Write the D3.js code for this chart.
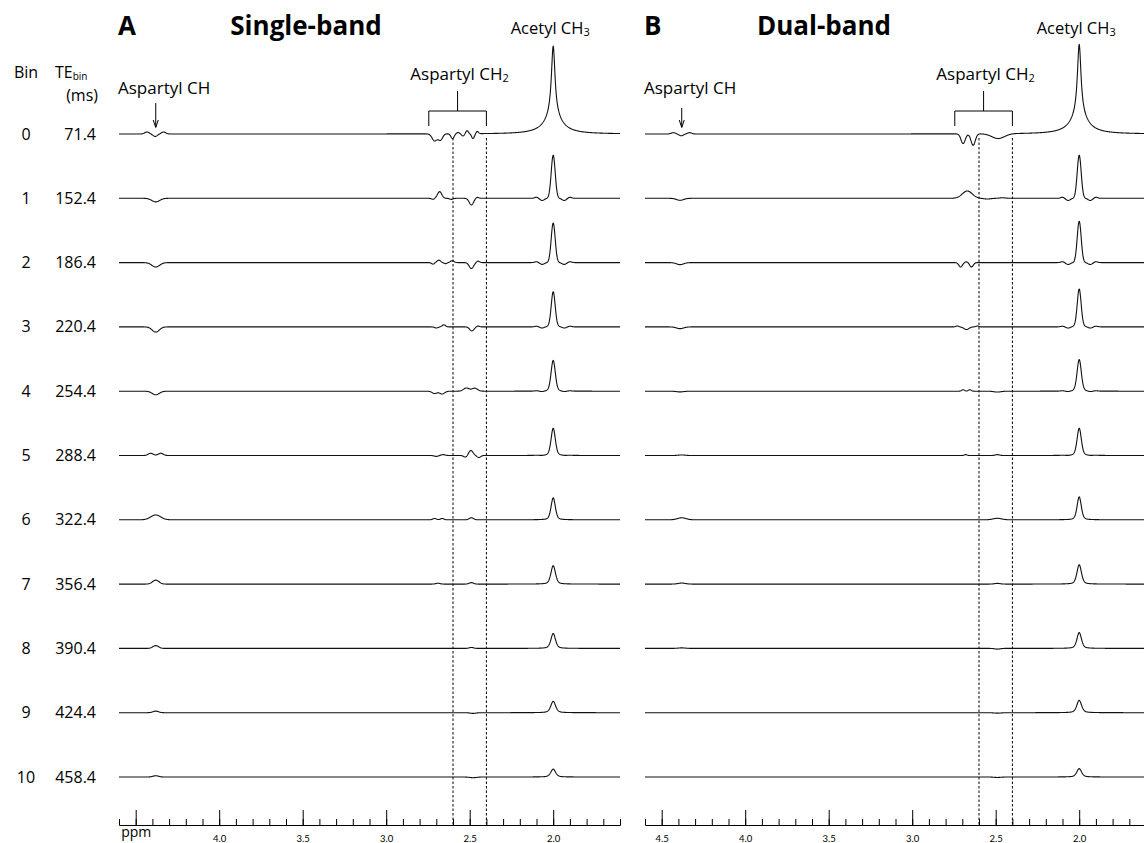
<!DOCTYPE html>
<html>
<head>
<meta charset="utf-8">
<script src="https://cdn.jsdelivr.net/npm/d3@7"></script>
<style>
  body { margin: 0; background: #fff; }
  svg { display: block; font-family: "Open Sans", sans-serif; }
</style>
</head>
<body>
<div id="chart"></div>
<script>
// bins and their echo times (ms)
var bins = [0, 1, 2, 3, 4, 5, 6, 7, 8, 9, 10];
var teBin = ["71.4", "152.4", "186.4", "220.4", "254.4", "288.4", "322.4", "356.4", "390.4", "424.4", "458.4"];

// acetyl CH3 at 2.0 ppm, height in a.u. (single-band bin 0 = 100)
var acetylSingle = [100, 49, 45, 40, 35, 31, 25, 21, 17, 13, 9];
var acetylDual = [102, 49, 47, 43, 36, 31, 26, 22, 18, 14, 9.5];
var acetylWidth = [0.026, 0.028, 0.028, 0.028, 0.03, 0.03, 0.03, 0.032, 0.032, 0.034, 0.034];
var acetylLorentz = [1, 0, 0, 0.1, 0.2, 0.3, 0.35, 0.4, 0.45, 0.5, 0.5];
var acetylWing = [0.2, 0, 0, 0, 0, 0, 0, 0, 0, 0, 0];
var acetylRinging = [0, 0.05, 0.045, 0.035, 0.02, 0.01, 0, 0, 0, 0, 0];

// small resonances per bin: [ppm, height a.u., fwhm ppm]
var aspCHSingle = [
  [[4.433, 2.3, 0.03], [4.383, -2.8, 0.03], [4.333, 2.3, 0.03]],
  [[4.38, -4.1, 0.055]],
  [[4.38, -5.0, 0.055]],
  [[4.38, -5.9, 0.05]],
  [[4.38, -4.1, 0.05]],
  [[4.41, 2.5, 0.035], [4.35, 2.5, 0.035]],
  [[4.38, 5.5, 0.07]],
  [[4.38, 4.5, 0.045]],
  [[4.38, 3.2, 0.04]],
  [[4.38, 1.8, 0.04]],
  [[4.38, 1.4, 0.04]]
];
var aspCHDual = [
  [[4.43, 1.5, 0.03], [4.383, -2, 0.03], [4.333, 1.5, 0.03]],
  [[4.39, -2.3, 0.05]],
  [[4.39, -2.3, 0.05]],
  [[4.39, -2, 0.05]],
  [[4.39, -0.8, 0.05]],
  [[4.38, 0.6, 0.05]],
  [[4.38, 2.3, 0.06]],
  [[4.38, 1.2, 0.05]],
  [[4.38, 0.6, 0.05]],
  [],
  []
];
var aspCH2Single = [
  [[2.71, -8, 0.035], [2.675, -7, 0.03], [2.603, -5.5, 0.022], [2.57, 1.5, 0.02], [2.54, -2.5, 0.02], [2.516, 3.5, 0.018], [2.48, -5.5, 0.02], [2.455, 2.5, 0.018]],
  [[2.72, -1.2, 0.02], [2.68, 7.6, 0.03], [2.61, -1.2, 0.025], [2.49, -7.6, 0.03], [2.455, 1.2, 0.02]],
  [[2.72, -1.7, 0.02], [2.685, 2.8, 0.025], [2.645, -1.2, 0.02], [2.605, 2.2, 0.025], [2.49, -6.8, 0.03], [2.45, 1.7, 0.02]],
  [[2.70, -1.2, 0.025], [2.655, 2.3, 0.025], [2.487, -4.6, 0.03], [2.45, 1, 0.02]],
  [[2.71, -2.6, 0.035], [2.665, -3.2, 0.035], [2.52, 3.6, 0.04], [2.47, 3.4, 0.04]],
  [[2.70, -1, 0.03], [2.66, 1, 0.03], [2.525, -2, 0.025], [2.493, 5.7, 0.03], [2.445, -2.3, 0.025]],
  [[2.71, 1.5, 0.025], [2.665, 1.5, 0.025], [2.49, 2.3, 0.03]],
  [[2.69, 1, 0.03], [2.49, 1.7, 0.03]],
  [[2.49, 1.1, 0.03]],
  [[2.48, -0.8, 0.04]],
  [[2.48, -0.8, 0.05]]
];
var aspCH2Dual = [
  [[2.695, -11, 0.03], [2.635, -13, 0.03], [2.485, -5.5, 0.09]],
  [[2.67, 8.3, 0.07], [2.55, -0.8, 0.05], [2.46, 0.6, 0.04]],
  [[2.71, -5, 0.025], [2.675, 1, 0.02], [2.645, -5, 0.025]],
  [[2.73, 1, 0.02], [2.675, -3, 0.035], [2.61, 1, 0.02]],
  [[2.695, 1.7, 0.02], [2.655, 1.7, 0.02], [2.49, -1, 0.05]],
  [[2.68, 1, 0.02], [2.49, 1, 0.03]],
  [[2.49, 1.7, 0.06]],
  [[2.49, 0.8, 0.04]],
  [[2.49, -0.8, 0.04]],
  [[2.49, -0.5, 0.05]],
  [[2.49, -0.5, 0.05]]
];

// axis ticks
var majorTicks = [4.5, 4.0, 3.5, 3.0, 2.5, 2.0];
var minorTicks = d3.range(16, 47).map(function(v) { return v / 10; });
var tickLabelsSingle = ["ppm", "4.0", "3.5", "3.0", "2.5", "2.0"];
var tickLabelsDual = ["4.5", "4.0", "3.5", "3.0", "2.5", "2.0"];

var width = 1144, height = 843;
var axisY = 825;

var svg = d3.select("#chart").append("svg")
    .attr("width", width)
    .attr("height", height);

var rowY = d3.scaleLinear().domain([0, 10]).range([134, 777]);
var amp = d3.scaleLinear().domain([0, 100]).range([0, 88]);
var ppmGrid = d3.range(4.6, 1.5995, -0.002);

function gauss(d, w) { return Math.exp(-4 * Math.LN2 * d * d / (w * w)); }
function lorentz(d, w) { return 1 / (1 + 4 * d * d / (w * w)); }

function intensity(ppm, i, acetyl, chList, ch2List) {
    var d = ppm - 2.0, w = acetylWidth[i], eta = acetylLorentz[i], r = acetylRinging[i];
    var main = eta * lorentz(d, w) + (1 - eta) * gauss(d, w);
    var shape = (1 - acetylWing[i]) * main + acetylWing[i] * lorentz(d, 0.12);
    shape += r * (-gauss(d - 0.066, 0.03) - gauss(d + 0.066, 0.03))
           + r * 0.5 * (gauss(d - 0.1, 0.025) + gauss(d + 0.1, 0.025));
    var v = acetyl[i] * shape;
    chList[i].concat(ch2List[i]).forEach(function(p) { v += p[1] * gauss(ppm - p[0], p[2]); });
    return v;
}

function drawPanel(opt) {
    var x = d3.scaleLinear().domain([4.6, 1.6]).range(opt.range);
    var g = svg.append("g");

    // dashed guides at 2.6 and 2.4 ppm
    g.selectAll(".guide")
        .data([2.6, 2.4])
        .enter().append("line")
        .attr("x1", function(d) { return x(d); })
        .attr("x2", function(d) { return x(d); })
        .attr("y1", rowY(0) + 4)
        .attr("y2", axisY)
        .attr("stroke", "#000")
        .attr("stroke-width", 1)
        .attr("stroke-dasharray", "2.5,2");

    // spectra
    var line = d3.line()
        .x(function(d) { return x(d[0]); })
        .y(function(d) { return d[1]; });

    g.selectAll(".spec")
        .data(bins)
        .enter().append("path")
        .attr("class", "spec")
        .attr("fill", "none")
        .attr("stroke", "#111")
        .attr("stroke-width", 1.1)
        .attr("stroke-linejoin", "round")
        .attr("d", function(i) {
            return line(ppmGrid.map(function(p) {
                return [p, rowY(i) - amp(intensity(p, i, opt.acetyl, opt.ch, opt.ch2))];
            }));
        });

    // axis
    var minorAxis = d3.axisBottom(x).tickValues(minorTicks).tickSizeInner(-6).tickSizeOuter(0).tickFormat("");
    var majorAxis = d3.axisBottom(x).tickValues(majorTicks).tickSizeInner(-15).tickSizeOuter(0).tickPadding(10)
        .tickFormat(function(d, k) { return opt.labels[k]; });

    var ga = g.append("g").attr("transform", "translate(0," + axisY + ")");
    ga.call(minorAxis);
    ga.append("g").call(majorAxis);
    ga.selectAll("path.domain").attr("stroke", "#000").attr("stroke-width", 1);
    ga.selectAll(".tick line").attr("stroke", "#000").attr("stroke-width", 1);
    ga.selectAll(".tick text")
        .attr("fill", "#000")
        .style("font-family", "Lato, sans-serif")
        .style("font-size", "9.5px");
    ga.selectAll(".tick text").filter(function() { return this.textContent === "ppm"; })
        .style("font-family", "'Open Sans', sans-serif")
        .style("font-size", "14px")
        .attr("y", 5)
        .attr("dy", "0.5em");

    // titles
    g.append("text").attr("x", opt.range[0] - 1).attr("y", 35)
        .style("font-size", "26px").style("font-weight", 700).text(opt.letter);
    g.append("text").attr("x", opt.titleX).attr("y", 35).attr("text-anchor", "middle")
        .style("font-size", "26px").style("font-weight", 700).text(opt.title);

    // acetyl label
    var ac = g.append("text").attr("x", x(2.0) - 3).attr("y", 34).attr("text-anchor", "middle")
        .style("font-size", "16.5px");
    ac.append("tspan").text("Acetyl CH");
    ac.append("tspan").attr("dy", 1.5).style("font-size", "11px").text("3");

    // aspartyl CH label + arrow
    g.append("text").attr("x", opt.range[0] - 1).attr("y", 94)
        .style("font-size", "17px").text("Aspartyl CH");
    var ax = x(4.38);
    g.append("line").attr("x1", ax).attr("x2", ax).attr("y1", opt.arrowTop).attr("y2", 127)
        .attr("stroke", "#000").attr("stroke-width", 1);
    g.append("path").attr("d", "M" + (ax - 2.5) + ",120L" + ax + ",127.5L" + (ax + 2.5) + ",120")
        .attr("fill", "none").attr("stroke", "#000").attr("stroke-width", 1);

    // aspartyl CH2 label + bracket
    var b0 = x(2.745), b1 = x(2.40), bc = (b0 + b1) / 2;
    var c2 = g.append("text").attr("x", bc + 2).attr("y", 80).attr("text-anchor", "middle")
        .style("font-size", "17px");
    c2.append("tspan").text("Aspartyl CH");
    c2.append("tspan").attr("dy", 1.5).style("font-size", "11px").text("2");
    g.append("path")
        .attr("d", "M" + b0 + ",126V111H" + b1 + "V126M" + bc + ",111V91")
        .attr("fill", "none").attr("stroke", "#000").attr("stroke-width", 1);
}

drawPanel({ range: [119, 620], acetyl: acetylSingle, ch: aspCHSingle, ch2: aspCH2Single,
            labels: tickLabelsSingle, letter: "A", title: "Single-band", titleX: 306, arrowTop: 103 });
drawPanel({ range: [645, 1146], acetyl: acetylDual, ch: aspCHDual, ch2: aspCH2Dual,
            labels: tickLabelsDual, letter: "B", title: "Dual-band", titleX: 824, arrowTop: 108 });

// row labels
svg.append("text").attr("x", 26).attr("y", 78).attr("text-anchor", "middle")
    .style("font-size", "16px").text("Bin");
var te = svg.append("text").attr("x", 55).attr("y", 78).style("font-size", "16px");
te.append("tspan").text("TE");
te.append("tspan").attr("dy", 1.5).style("font-size", "10px").text("bin");
svg.append("text").attr("x", 98).attr("y", 101).attr("text-anchor", "end")
    .style("font-size", "16px").text("(ms)");

svg.selectAll(".binLabel")
    .data(bins)
    .enter().append("text")
    .attr("x", 26)
    .attr("y", function(i) { return rowY(i) + 5.5; })
    .attr("text-anchor", "middle")
    .style("font-size", "16px")
    .text(function(i) { return i; });

svg.selectAll(".teLabel")
    .data(bins)
    .enter().append("text")
    .attr("x", 96)
    .attr("y", function(i) { return rowY(i) + 5.5; })
    .attr("text-anchor", "end")
    .style("font-size", "16px")
    .text(function(i) { return teBin[i]; });
</script>
</body>
</html>
